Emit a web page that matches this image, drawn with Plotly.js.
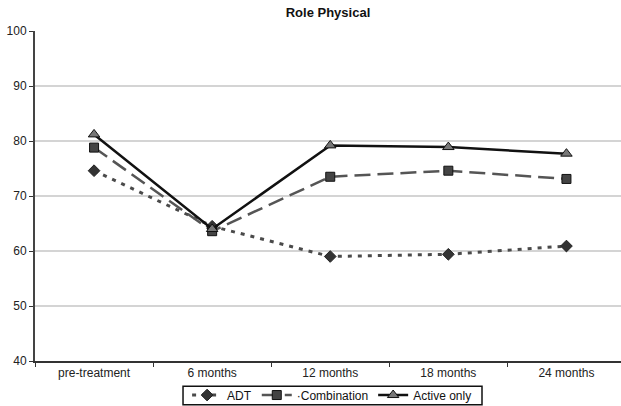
<!DOCTYPE html>
<html>
<head>
<meta charset="utf-8">
<script src="https://cdn.plot.ly/plotly-3.0.1.min.js"></script>
<style>html,body{margin:0;padding:0;background:#fff;}#chart{width:621px;height:406px;}</style>
</head>
<body>
<div id="chart"></div>
<script>
const categories = ["pre-treatment", "6 months", "12 months", "18 months", "24 months"];
const adt = [74.6, 64.5, 59.0, 59.4, 60.9];
const combination = [78.8, 63.6, 73.5, 74.6, 73.1];
const activeOnly = [81.2, 64.0, 79.2, 78.9, 77.7];
const seriesNames = ["ADT", "\u00b7Combination", "Active only"];
const yTicks = [40, 50, 60, 70, 80, 90, 100];

const traces = [
  {
    x: categories, y: adt, name: seriesNames[0], type: "scatter", mode: "lines+markers",
    line: {color: "#4a4a4a", width: 3, dash: "4px,6px"},
    marker: {symbol: "diamond", size: 9, color: "#333333", line: {color: "#222", width: 1}}
  },
  {
    x: categories, y: combination, name: seriesNames[1], type: "scatter", mode: "lines+markers",
    line: {color: "#555555", width: 2.5, dash: "16px,7px"},
    marker: {symbol: "square", size: 9, color: "#444444", line: {color: "#111", width: 1}}
  },
  {
    x: categories, y: activeOnly, name: seriesNames[2], type: "scatter", mode: "lines+markers",
    line: {color: "#111111", width: 2.5},
    marker: {symbol: "triangle-up", size: 10, color: "#777777", line: {color: "#111", width: 1}}
  }
];

const layout = {
  width: 621, height: 406,
  margin: {l: 35, r: 0, t: 31, b: 45, pad: 0, autoexpand: false},
  paper_bgcolor: "#fff", plot_bgcolor: "#fff",
  font: {family: "Liberation Sans, Arial, sans-serif", size: 12, color: "#222"},
  title: {text: "<b>Role Physical</b>", x: 0.5, xref: "paper", y: 0.97, yanchor: "middle", yref: "container",
          font: {size: 13, color: "#111"}},
  xaxis: {
    type: "category", range: [-0.5, 4.462], tickson: "boundaries",
    ticks: "outside", ticklen: 4, tickcolor: "#333", tickwidth: 1,
    showline: true, linecolor: "#333", linewidth: 1.5,
    showgrid: false, zeroline: false, fixedrange: true,
    tickfont: {size: 12, color: "#222"}, automargin: false
  },
  yaxis: {
    range: [40, 100], tickvals: yTicks, ticks: "outside", ticklen: 4, tickcolor: "#333",
    showline: true, linecolor: "#444", linewidth: 2,
    showgrid: true, gridcolor: "#d4d4d4", gridwidth: 1.5, zeroline: false,
    tickfont: {size: 12, color: "#222"}, fixedrange: true, automargin: false
  },
  shapes: [
    {type: "rect", xref: "paper", yref: "paper", x0: 0.2526, x1: 0.7628, y0: -0.0767, y1: -0.1327,
     line: {color: "#111", width: 1.5}, fillcolor: "rgba(0,0,0,0)", layer: "above"}
  ],
  showlegend: true,
  legend: {
    orientation: "h", x: 0.507, xanchor: "center", xref: "paper",
    y: 0.027, yanchor: "middle", yref: "container",
    borderwidth: 0, bgcolor: "rgba(0,0,0,0)",
    font: {size: 12, color: "#111"}, itemwidth: 30, tracegroupgap: 0,
    itemclick: false
  }
};

Plotly.newPlot("chart", traces, layout, {displayModeBar: false, staticPlot: true});
</script>
</body>
</html>
